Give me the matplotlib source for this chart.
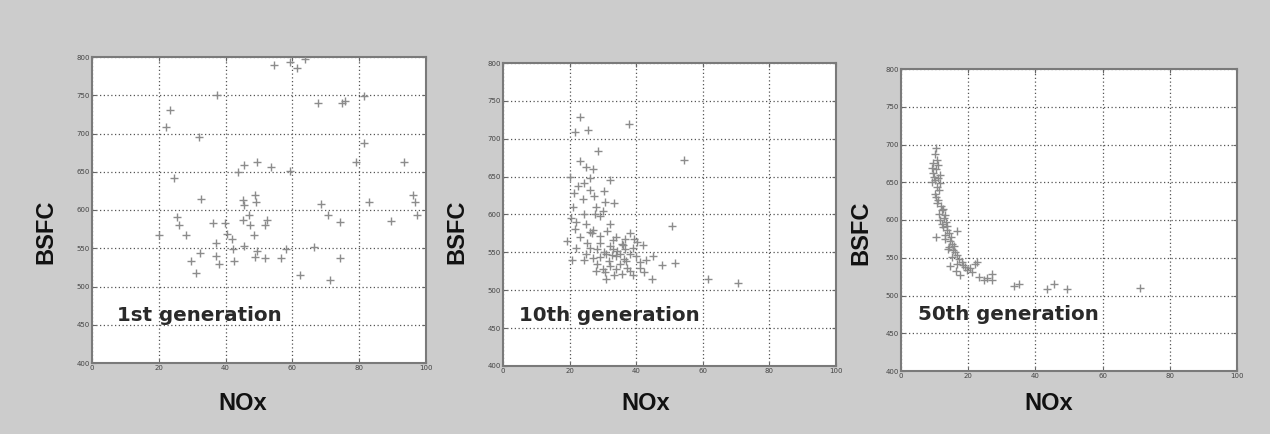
import matplotlib
matplotlib.use("Agg")
import matplotlib.pyplot as plt

# ---------------- data ----------------
gen1_nox = [54.4, 59.4, 61.4, 63.9, 37.4, 23.5, 22.2, 32.1, 67.7, 74.9, 75.6, 81.5,
            81.5, 24.5, 45.4, 49.4, 53.6, 43.6, 59.4, 79.1, 93.5, 32.7, 45.1, 45.4,
            48.7, 49.0, 68.7, 70.7, 74.2, 82.8, 96.0, 96.6, 97.3, 89.5, 25.4, 26.1,
            28.0, 20.0, 36.2, 39.9, 45.2, 46.9, 47.4, 52.3, 51.8, 48.6, 37.2, 40.4,
            41.9, 45.4, 32.4, 29.5, 31.0, 37.2, 37.9, 42.4, 42.3, 48.9, 49.4, 51.9,
            56.7, 58.1, 66.4, 74.4, 62.2, 71.2]
gen1_bsfc = [789, 793, 785, 798, 750, 731, 708, 695, 740, 740, 743, 749,
             688, 642, 659, 663, 656, 650, 651, 663, 663, 615, 613, 606,
             619, 610, 608, 594, 584, 610, 619, 611, 594, 586, 591, 580,
             567, 567, 583, 583, 587, 593, 580, 587, 580, 567, 557, 568,
             562, 553, 544, 533, 518, 540, 530, 533, 549, 538, 546, 537,
             537, 549, 552, 537, 515, 509]

gen10_nox = [23.2, 21.7, 25.5, 37.7, 28.5, 23.0, 24.9, 27.0, 54.5, 32.0, 20.0, 24.2,
             21.2, 26.2, 27.2, 30.2, 24.0, 28.0, 30.7, 33.2, 27.7, 24.2, 50.7, 21.7,
             26.2, 27.0, 31.2, 36.7, 39.2, 19.2, 25.2, 26.7, 40.2, 35.7, 32.2, 28.2,
             30.2, 34.2, 36.7, 20.7, 24.2, 28.2, 29.2, 31.7, 32.7, 36.2, 30.7, 33.2,
             35.7, 37.2, 41.2, 42.2, 44.7, 47.7, 51.7, 61.7, 70.7,
             22.0, 23.0, 29.0, 33.0, 34.0, 38.0, 25.0, 27.0, 30.0, 32.0, 35.0, 38.0,
             39.0, 22.0, 26.0, 29.0, 31.0, 33.0, 35.0, 37.0, 40.0, 28.0, 34.0, 36.0,
             30.0, 29.0, 25.0, 32.0, 20.5, 21.0, 22.5, 26.0, 34.0, 38.0, 42.0, 43.0,
             39.0, 31.0, 41.0, 45.0]
gen10_bsfc = [729, 709, 712, 719, 684, 670, 663, 660, 672, 646, 649, 641,
              628, 632, 625, 631, 620, 610, 616, 615, 601, 600, 585, 581,
              577, 579, 578, 568, 567, 565, 563, 575, 564, 561, 559, 554,
              550, 552, 554, 540, 540, 535, 544, 539, 547, 541, 524, 520,
              522, 530, 537, 524, 515, 533, 536, 515, 509,
              590, 570, 571, 566, 545, 548, 548, 543, 528, 532, 535, 526,
              556, 556, 556, 562, 548, 555, 548, 538, 545, 526, 528, 560,
              605, 598, 588, 588, 595, 610, 638, 648, 570, 575, 560, 540,
              520, 515, 530, 545]

gen50_nox = [10.4, 10.8, 9.1, 11.1, 9.6, 11.6, 10.1, 11.6, 10.1, 10.8, 12.1, 13.1,
             11.6, 12.6, 13.8, 16.6, 10.4, 14.8, 13.1, 14.6, 14.4, 15.6, 16.6, 15.1,
             14.6, 16.6, 17.6, 19.1, 19.6, 22.1, 23.1, 24.6, 27.1, 27.1, 33.5, 35.0,
             43.4, 45.4, 49.4, 71.0,
             10.0, 9.5, 10.5, 9.8, 10.9, 9.3, 10.6, 11.2, 10.4, 11.0, 11.8, 12.4,
             11.4, 12.8, 13.4, 12.2, 13.6, 14.2, 13.0, 15.3, 15.8, 14.0, 16.0, 17.2,
             18.2, 18.6, 20.5, 21.2, 16.3, 25.5, 22.5]
gen50_bsfc = [695, 680, 669, 673, 662, 660, 653, 649, 635, 622, 613, 607,
              600, 591, 587, 586, 578, 578, 575, 572, 564, 560, 554, 551,
              539, 542, 527, 538, 534, 542, 525, 521, 521, 529, 513, 515,
              508, 515, 508, 510,
              688, 676, 667, 657, 656, 650, 644, 640, 630, 627, 618, 615,
              608, 603, 598, 595, 592, 583, 580, 568, 566, 562, 557, 548,
              545, 540, 536, 531, 533, 523, 545]

panel_titles = ["1st generation", "10th generation", "50th generation"]
x_ticks = [0, 20, 40, 60, 80, 100]
y_ticks = [400, 450, 500, 550, 600, 650, 700, 750, 800]
x_label = "NOx"
y_label = "BSFC"

# ---------------- figure ----------------
W, H = 1270, 434
fig = plt.figure(figsize=(W / 100, H / 100), dpi=100)
fig.patch.set_facecolor("#cccccc")

def frac_box(left, top, right, bottom):
    return [left / W, 1 - bottom / H, (right - left) / W, (bottom - top) / H]

boxes = [frac_box(92, 57, 426, 363),
         frac_box(503, 63, 836, 366),
         frac_box(901, 69, 1237, 371)]
text_left = [7.5, 4.9, 5.1]
text_y = [462, 467, 475]
xlabel_pos = [(243, 403), (646, 403), (1049, 403)]
ylabel_pos = [(46, 232), (457, 232), (861, 233)]

data = [(gen1_nox, gen1_bsfc), (gen10_nox, gen10_bsfc), (gen50_nox, gen50_bsfc)]

for i, (box, (xs, ys)) in enumerate(zip(boxes, data)):
    ax = fig.add_axes(box)
    ax.set_facecolor("white")
    ax.plot(xs, ys, linestyle="none", marker="+", markersize=6,
            markeredgewidth=1.0, color="#8c8c8c", zorder=3)
    ax.set_xlim(0, 100)
    ax.set_ylim(400, 800)
    ax.set_xticks(x_ticks)
    ax.set_yticks(y_ticks)
    ax.grid(True, color="#555555", linestyle=(0, (1, 2)), linewidth=0.9)
    ax.set_axisbelow(True)
    for sp in ax.spines.values():
        sp.set_color("#7a7a7a")
        sp.set_linewidth(1.5)
    ax.tick_params(direction="in", length=3, width=0.8, color="#666666",
                   labelsize=5, labelcolor="#444444", pad=1.5,
                   top=True, right=True)
    ax.text(text_left[i], text_y[i], panel_titles[i], fontsize=14.3,
            family="DejaVu Sans", fontweight="bold", color="#2a2a2a",
            va="center", ha="left", zorder=4)
    fig.text(xlabel_pos[i][0] / W, 1 - xlabel_pos[i][1] / H, x_label,
             family="Liberation Sans", fontweight="bold", fontsize=17,
             ha="center", va="center", color="#111111")
    fig.text(ylabel_pos[i][0] / W, 1 - ylabel_pos[i][1] / H, y_label,
             family="Liberation Sans", fontweight="bold", fontsize=17,
             ha="center", va="center", rotation=90, color="#111111")

fig.savefig("out.png", dpi=100, facecolor=fig.get_facecolor())
